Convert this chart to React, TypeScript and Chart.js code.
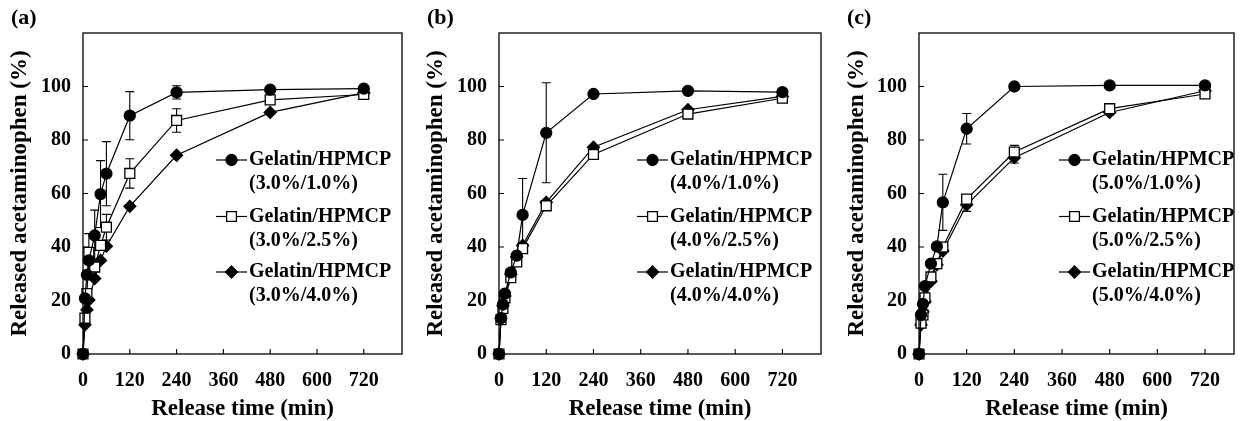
import React, { useEffect, useRef } from 'react';
import { Chart, registerables } from 'chart.js';

Chart.register(...registerables);

// ---------- data ----------
const TIMES = [0, 5, 10, 15, 30, 45, 60, 120, 240, 480, 720];
const X_TICKS = [0, 120, 240, 360, 480, 600, 720];
const Y_TICKS = [0, 20, 40, 60, 80, 100];

// Panel (a) gelatin 3.0%
const A_HP10 = [0, 20.8, 29.6, 35, 44.3, 59.8, 67.4, 89.1, 97.8, 98.8, 99.2];
const A_HP10_ERR = [0, 0, 0, 0, 9.5, 12.5, 12, 9, 2.5, 0, 0];
const A_HP25 = [0, 13.4, 22.6, 38, 32.5, 40.6, 47.4, 67.5, 87.3, 95, 97];
const A_HP25_ERR = [0, 0, 0, 7, 0, 0, 4.8, 5.5, 4.4, 0, 0];
const A_HP40 = [0, 10.9, 16.5, 20.2, 28.2, 35, 40.3, 55.2, 74.3, 90.3, 97.6];
const A_HP40_ERR = [0, 0, 0, 0, 0, 0, 0, 0, 0, 0, 0];

// Panel (b) gelatin 4.0%
const B_HP10 = [0, 13.4, 18.5, 22.6, 30.5, 36.8, 52, 82.7, 97.2, 98.4, 97.9];
const B_HP10_ERR = [0, 0, 0, 0, 0, 0, 13.6, 18.7, 0, 0, 0];
const B_HP25 = [0, 12.8, 17, 21, 28.5, 34.4, 39.4, 55.4, 74.6, 89.7, 95.6];
const B_HP25_ERR = [0, 0, 0, 0, 0, 0, 0, 0, 0, 0, 0];
const B_HP40 = [0, 13.4, 18, 21.7, 29.8, 36.3, 40.6, 56.7, 77.3, 91.3, 96.3];
const B_HP40_ERR = [0, 0, 0, 0, 0, 0, 0, 0, 0, 0, 0];

// Panel (c) gelatin 5.0%
const C_HP10 = [0, 14.6, 18.7, 25.4, 33.8, 40.2, 56.7, 84.2, 100, 100.4, 100.4];
const C_HP10_ERR = [0, 0, 0, 0, 0, 0, 10.5, 5.7, 0, 0, 0];
const C_HP25 = [0, 11.5, 14.6, 21, 28.8, 33.8, 40, 57.9, 75.5, 91.7, 97.2];
const C_HP25_ERR = [0, 0, 0, 0, 0, 0, 0, 1.5, 2.5, 0, 0];
const C_HP40 = [0, 10.9, 15.8, 19.6, 27.2, 33.4, 38.5, 55.8, 73.4, 90.3, 98.4];
const C_HP40_ERR = [0, 0, 0, 0, 0, 0, 0, 2.5, 2, 0, 0];

const PANEL_LABELS = ['(a)', '(b)', '(c)'];
const SERIES_NAME = 'Gelatin/HPMCP';
const LEGEND_A = ['(3.0%/1.0%)', '(3.0%/2.5%)', '(3.0%/4.0%)'];
const LEGEND_B = ['(4.0%/1.0%)', '(4.0%/2.5%)', '(4.0%/4.0%)'];
const LEGEND_C = ['(5.0%/1.0%)', '(5.0%/2.5%)', '(5.0%/4.0%)'];
const X_TITLE = 'Release time (min)';
const Y_TITLE = 'Released acetaminophen (%)';

// ---------- styles ----------
const FONT = '"Liberation Serif", "Times New Roman", Times, serif';
const MARKERS = ['circle', 'rect', 'rectRot'];

type PanelCfg = {
  label: string;
  legend: string[];
  series: number[][];
  errors: number[][];
  left: number;
  width: number;
  areaL: number;
  areaR: number;
  padL: number;
  xMax: number;
  legendX: number;
  labelX: number;
};

const PANELS: PanelCfg[] = [
  {
    label: PANEL_LABELS[0], legend: LEGEND_A,
    series: [A_HP10, A_HP25, A_HP40], errors: [A_HP10_ERR, A_HP25_ERR, A_HP40_ERR],
    left: 0, width: 414, areaL: 83, areaR: 402, padL: 2, xMax: 818, legendX: 216, labelX: 11,
  },
  {
    label: PANEL_LABELS[1], legend: LEGEND_B,
    series: [B_HP10, B_HP25, B_HP40], errors: [B_HP10_ERR, B_HP25_ERR, B_HP40_ERR],
    left: 414, width: 416, areaL: 85, areaR: 407, padL: 4, xMax: 818, legendX: 223, labelX: 13,
  },
  {
    label: PANEL_LABELS[2], legend: LEGEND_C,
    series: [C_HP10, C_HP25, C_HP40], errors: [C_HP10_ERR, C_HP25_ERR, C_HP40_ERR],
    left: 830, width: 414, areaL: 89, areaR: 404, padL: 9, xMax: 793, legendX: 229, labelX: 17,
  },
];

const H = 421;
const AREA_TOP = 33;
const AREA_BOTTOM = 354;

function drawMarker(ctx: CanvasRenderingContext2D, style: string, x: number, y: number) {
  ctx.save();
  ctx.strokeStyle = '#000';
  ctx.lineWidth = 1.3;
  ctx.beginPath();
  if (style === 'circle') {
    ctx.arc(x, y, 5.5, 0, Math.PI * 2);
    ctx.fillStyle = '#000';
    ctx.fill();
    ctx.stroke();
  } else if (style === 'rect') {
    const s = 4.9;
    ctx.rect(x - s, y - s, 2 * s, 2 * s);
    ctx.fillStyle = '#fff';
    ctx.fill();
    ctx.stroke();
  } else {
    const r = 6;
    ctx.moveTo(x, y - r);
    ctx.lineTo(x + r, y);
    ctx.lineTo(x, y + r);
    ctx.lineTo(x - r, y);
    ctx.closePath();
    ctx.fillStyle = '#000';
    ctx.fill();
    ctx.stroke();
  }
  ctx.restore();
}

const decorPlugin = {
  id: 'decor',
  beforeDatasetsDraw(chart: any) {
    const ctx: CanvasRenderingContext2D = chart.ctx;
    const ys = chart.scales.y;
    ctx.save();
    ctx.strokeStyle = '#000';
    ctx.lineWidth = 1.1;
    chart.data.datasets.forEach((ds: any, i: number) => {
      const meta = chart.getDatasetMeta(i);
      const errs: number[] = ds.errors || [];
      meta.data.forEach((pt: any, j: number) => {
        const e = errs[j];
        if (!e) return;
        const v = ds.data[j].y;
        const yTop = ys.getPixelForValue(v + e);
        const yBot = ys.getPixelForValue(v - e);
        const x = pt.x;
        ctx.beginPath();
        ctx.moveTo(x, yTop);
        ctx.lineTo(x, yBot);
        ctx.moveTo(x - 4.5, yTop);
        ctx.lineTo(x + 4.5, yTop);
        ctx.moveTo(x - 4.5, yBot);
        ctx.lineTo(x + 4.5, yBot);
        ctx.stroke();
      });
    });
    ctx.restore();
  },
  afterDraw(chart: any, _args: any, opts: any) {
    const ctx: CanvasRenderingContext2D = chart.ctx;
    const a = chart.chartArea;
    const xs = chart.scales.x;
    const ys = chart.scales.y;
    ctx.save();
    ctx.strokeStyle = '#000';
    ctx.lineWidth = 1.3;
    ctx.strokeRect(a.left, a.top, a.right - a.left, a.bottom - a.top);
    ctx.lineWidth = 1.1;
    ctx.beginPath();
    Y_TICKS.forEach((v) => {
      const y = ys.getPixelForValue(v);
      ctx.moveTo(a.left, y);
      ctx.lineTo(a.left + 5, y);
    });
    X_TICKS.forEach((v) => {
      const x = xs.getPixelForValue(v);
      ctx.moveTo(x, a.bottom);
      ctx.lineTo(x, a.bottom - 5);
    });
    ctx.stroke();

    // legend
    const lx = opts.legendX;
    const rows = [160, 216.5, 272];
    ctx.font = `bold 20px ${FONT}`;
    ctx.fillStyle = '#000';
    ctx.textBaseline = 'middle';
    ctx.textAlign = 'left';
    rows.forEach((ry, i) => {
      ctx.lineWidth = 1.2;
      ctx.beginPath();
      ctx.moveTo(lx, ry);
      ctx.lineTo(lx + 31, ry);
      ctx.stroke();
      drawMarker(ctx, MARKERS[i], lx + 15.5, ry);
      ctx.fillText(SERIES_NAME, lx + 33, ry);
      ctx.fillText(opts.legend[i], lx + 33, ry + 24);
    });

    // panel label
    ctx.font = `bold 22px ${FONT}`;
    ctx.fillText(opts.label, opts.labelX, 18);
    ctx.restore();
  },
};

function Panel({ cfg }: { cfg: PanelCfg }) {
  const ref = useRef<HTMLCanvasElement | null>(null);
  useEffect(() => {
    if (!ref.current) return;
    const datasets = cfg.series.map((vals, i) => {
      const style = MARKERS[i];
      return {
        label: `${SERIES_NAME} ${cfg.legend[i]}`,
        data: TIMES.map((t, j) => ({ x: t, y: vals[j] })),
        errors: cfg.errors[i],
        borderColor: '#000',
        borderWidth: 1.2,
        pointStyle: style,
        pointRadius: style === 'circle' ? 5.5 : style === 'rect' ? 7 : 6,
        pointBorderWidth: 1.3,
        pointBorderColor: '#000',
        pointBackgroundColor: style === 'rect' ? '#fff' : '#000',
        backgroundColor: style === 'rect' ? '#fff' : '#000',
        fill: false,
        tension: 0,
        clip: false,
      };
    });
    const tickFont = { family: FONT, size: 20, weight: 'bold' as const };
    const titleFont = { family: FONT, size: 23, weight: 'bold' as const };
    const chart = new Chart(ref.current, {
      type: 'line',
      data: { datasets: datasets as any },
      plugins: [decorPlugin as any],
      options: {
        animation: false,
        responsive: false,
        devicePixelRatio: 1,
        events: [],
        layout: {
          padding: { left: cfg.padL, top: AREA_TOP, right: cfg.width - cfg.areaR, bottom: 0 },
        },
        plugins: {
          legend: { display: false },
          tooltip: { enabled: false },
          decor: { legendX: cfg.legendX, legend: cfg.legend, label: cfg.label, labelX: cfg.labelX },
        } as any,
        scales: {
          x: {
            type: 'linear',
            min: 0,
            max: cfg.xMax,
            afterBuildTicks: (s: any) => {
              s.ticks = X_TICKS.map((v) => ({ value: v }));
            },
            afterFit: (s: any) => {
              s.height = H - AREA_BOTTOM;
            },
            grid: { display: false, drawTicks: false },
            border: { display: false },
            ticks: { font: tickFont, color: '#000', padding: 15, maxRotation: 0, autoSkip: false },
            title: { display: true, text: X_TITLE, font: titleFont, color: '#000', padding: { top: 0, bottom: -2 } },
          },
          y: {
            type: 'linear',
            min: 0,
            max: 120,
            afterBuildTicks: (s: any) => {
              s.ticks = Y_TICKS.map((v) => ({ value: v }));
            },
            afterFit: (s: any) => {
              s.width = cfg.areaL - cfg.padL;
            },
            grid: { display: false, drawTicks: false },
            border: { display: false },
            ticks: { font: tickFont, color: '#000', padding: 12 },
            title: { display: true, text: Y_TITLE, font: titleFont, color: '#000', padding: { top: 4, bottom: 0 } },
          },
        },
      } as any,
    });
    return () => chart.destroy();
  }, [cfg]);
  return (
    <canvas
      ref={ref}
      width={cfg.width}
      height={H}
      style={{ position: 'absolute', left: cfg.left, top: 0, width: cfg.width, height: H }}
    />
  );
}

export default function App() {
  return (
    <div style={{ position: 'fixed', left: 0, top: 0, width: 1244, height: H, background: '#fff' }}>
      {PANELS.map((p) => (
        <Panel key={p.label} cfg={p} />
      ))}
    </div>
  );
}
